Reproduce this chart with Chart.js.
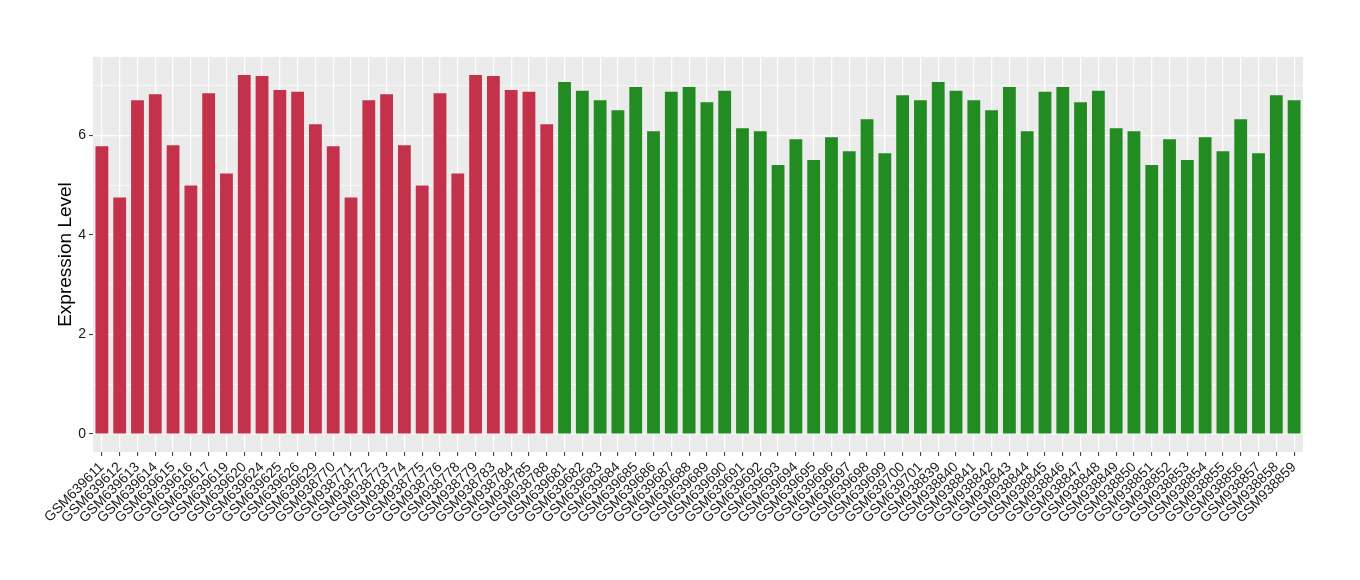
<!DOCTYPE html>
<html>
<head>
<meta charset="utf-8">
<script src="https://cdn.jsdelivr.net/npm/chart.js@4"></script>
<style>
  html, body { margin: 0; padding: 0; background: #ffffff; }
  #wrap { width: 1360px; height: 580px; }
</style>
</head>
<body>
<div id="wrap"><canvas id="graf_expr"></canvas></div>
<script>
// groupe rouge
const samples_rouge = ['GSM639611', 'GSM639612', 'GSM639613', 'GSM639614', 'GSM639615', 'GSM639616', 'GSM639617',
  'GSM639619', 'GSM639620', 'GSM639624', 'GSM639625', 'GSM639626', 'GSM639629', 'GSM938770', 'GSM938771',
  'GSM938772', 'GSM938773', 'GSM938774', 'GSM938775', 'GSM938776', 'GSM938778', 'GSM938779', 'GSM938783',
  'GSM938784', 'GSM938785', 'GSM938788'];
const valeurs_rouge = [5.78, 4.75, 6.70, 6.82, 5.80, 4.99, 6.84, 5.23, 7.21, 7.19, 6.91, 6.87, 6.22,
  5.78, 4.75, 6.70, 6.82, 5.80, 4.99, 6.84, 5.23, 7.21, 7.19, 6.91, 6.87, 6.22];

// groupe vert
const samples_vert = ['GSM639681', 'GSM639682', 'GSM639683', 'GSM639684', 'GSM639685', 'GSM639686', 'GSM639687',
  'GSM639688', 'GSM639689', 'GSM639690', 'GSM639691', 'GSM639692', 'GSM639693', 'GSM639694', 'GSM639695',
  'GSM639696', 'GSM639697', 'GSM639698', 'GSM639699', 'GSM639700', 'GSM639701', 'GSM938839', 'GSM938840',
  'GSM938841', 'GSM938842', 'GSM938843', 'GSM938844', 'GSM938845', 'GSM938846', 'GSM938847', 'GSM938848',
  'GSM938849', 'GSM938850', 'GSM938851', 'GSM938852', 'GSM938853', 'GSM938854', 'GSM938855', 'GSM938856',
  'GSM938857', 'GSM938858', 'GSM938859'];
const valeurs_vert = [7.07, 6.89, 6.70, 6.50, 6.97, 6.08, 6.87, 6.97, 6.66, 6.89, 6.14, 6.08, 5.40, 5.92,
  5.50, 5.96, 5.68, 6.32, 5.64, 6.80, 6.70,
  7.07, 6.89, 6.70, 6.50, 6.97, 6.08, 6.87, 6.97, 6.66, 6.89, 6.14, 6.08, 5.40, 5.92,
  5.50, 5.96, 5.68, 6.32, 5.64, 6.80, 6.70];

const y_ticks = [0, 1, 2, 3, 4, 5, 6, 7];

const rouge = '#C3324A';
const vert = '#228B22';

const labels = samples_rouge.concat(samples_vert);
const data_expr = valeurs_rouge.concat(valeurs_vert);
const couleurs = samples_rouge.map(() => rouge).concat(samples_vert.map(() => vert));

// fond gris du panneau (comme ggplot)
const fondPanneau = {
  id: 'fondPanneau',
  beforeDraw(chart) {
    const a = chart.chartArea;
    const ctx = chart.ctx;
    ctx.save();
    ctx.fillStyle = '#EBEBEB';
    ctx.fillRect(a.left, a.top, a.right - a.left, a.bottom - a.top);
    ctx.restore();
  }
};

const police = "'Liberation Sans', Arial, sans-serif";

new Chart(document.getElementById('graf_expr'), {
  type: 'bar',
  data: {
    labels: labels,
    datasets: [{
      data: data_expr,
      backgroundColor: couleurs,
      borderWidth: 0,
      categoryPercentage: 1,
      barPercentage: 0.72
    }]
  },
  options: {
    responsive: true,
    maintainAspectRatio: false,
    animation: false,
    layout: { padding: { left: 0, right: 57, top: 57, bottom: 0 } },
    plugins: {
      legend: { display: false },
      tooltip: { enabled: false }
    },
    scales: {
      x: {
        grid: {
          offset: false,
          color: '#FFFFFF',
          lineWidth: 1.2,
          tickColor: '#333333',
          tickLength: 4,
          tickWidth: 1
        },
        border: { display: false },
        ticks: {
          autoSkip: false,
          maxRotation: 45,
          minRotation: 45,
          padding: 3,
          color: '#1a1a1a',
          font: { family: police, size: 14 }
        },
        afterFit(scale) { scale.height = 128; }
      },
      y: {
        min: -0.36,
        max: 7.57,
        afterBuildTicks(scale) {
          scale.ticks = y_ticks.map(v => ({ value: v }));
        },
        grid: {
          color: '#FFFFFF',
          lineWidth: ctx => (ctx.tick && ctx.tick.value % 2 === 0) ? 1.2 : 0.6,
          tickColor: ctx => (ctx.tick && ctx.tick.value % 2 === 0) ? '#333333' : 'rgba(0,0,0,0)',
          tickLength: 4,
          tickWidth: 1
        },
        border: { display: false },
        ticks: {
          padding: 3,
          color: '#1a1a1a',
          font: { family: police, size: 14 },
          callback: v => (v % 2 === 0 ? String(v) : '')
        },
        title: {
          display: true,
          text: 'Expression Level',
          color: '#000000',
          font: { family: police, size: 19 },
          padding: { top: 54, bottom: 4 }
        },
        afterFit(scale) { scale.width = 93; }
      }
    }
  },
  plugins: [fondPanneau]
});
</script>
</body>
</html>
